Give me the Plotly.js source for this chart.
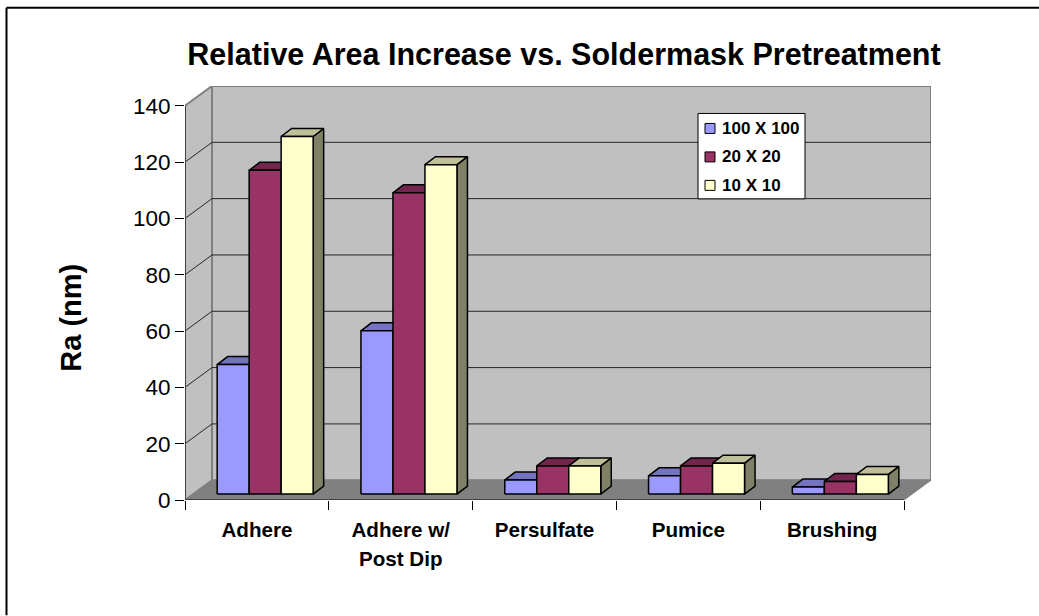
<!DOCTYPE html>
<html>
<head>
<meta charset="utf-8">
<script src="https://cdn.plot.ly/plotly-3.0.1.min.js"></script>
<style>html,body{margin:0;padding:0;background:#fff}#chart{width:1039px;height:616px}</style>
</head>
<body>
<div id="chart"></div>
<script>
const categories = ["Adhere", "Adhere w/<br>Post Dip", "Persulfate", "Pumice", "Brushing"];
const seriesNames = ["100 X 100", "20 X 20", "10 X 10"];
const values100 = [46, 58, 5, 6.5, 2.5];
const values20 = [115, 107, 10, 10, 4.5];
const values10 = [127, 117, 10, 11, 7];
const yTicks = [0, 20, 40, 60, 80, 100, 120, 140];

const W = 1039, H = 616;
const plotLeft = 185, plotFloorY = 500.5, plotTopY = 86, plotRight = 931;
const pxPerCat = 143.8, pxPerUnit = 2.82;
const depthX = 27 / pxPerCat, depthY = 19.8 / pxPerUnit;
const barW = 32 / pxPerCat;
const barDepthX = 10.5 / pxPerCat, barDepthY = 8 / pxPerUnit;
const barInsetX = (depthX - barDepthX) / 2, barInsetY = (depthY - barDepthY) / 2;

const fills = [
  {front: "#9999FF", top: "#7373BF", side: "#4D4D80"},
  {front: "#993366", top: "#73264D", side: "#4D1933"},
  {front: "#FFFFCC", top: "#BFBF99", side: "#808066"}
];

const xMax = categories.length + depthX;
const yMax = 140 + depthY;

// One filled trace holding a set of polygons separated by gaps
function polyTrace(polys, color, lineColor, lineWidth) {
  const x = [], y = [];
  polys.forEach(p => {
    p.forEach(pt => { x.push(pt[0]); y.push(pt[1]); });
    x.push(p[0][0]); y.push(p[0][1]);
    x.push(null); y.push(null);
  });
  return {
    type: "scatter", mode: "lines", x, y, fill: "toself", fillcolor: color,
    line: {color: lineColor, width: lineWidth, simplify: false},
    hoverinfo: "skip", showlegend: false, cliponaxis: false
  };
}

function lineTrace(pts, color, width) {
  return {
    type: "scatter", mode: "lines", x: pts.map(p => p[0]), y: pts.map(p => p[1]),
    line: {color, width, simplify: false}, hoverinfo: "skip", showlegend: false, cliponaxis: false
  };
}

const traces = [];

// Walls and floor of the 3-D box
const n = categories.length;
traces.push(polyTrace([[[depthX, depthY], [n + depthX, depthY], [n + depthX, 140 + depthY], [depthX, 140 + depthY]]], "#C0C0C0", "#808080", 2));
traces.push(polyTrace([[[0, 0], [depthX, depthY], [depthX, 140 + depthY], [0, 140]]], "#C0C0C0", "#808080", 2));
traces.push(polyTrace([[[0, 0], [n, 0], [n + depthX, depthY], [depthX, depthY]]], "#808080", "#808080", 1));

// Gridlines run along the side wall and across the back wall
yTicks.filter(v => v > 0 && v < 140).forEach(v => {
  traces.push(lineTrace([[0, v], [depthX, v + depthY], [n + depthX, v + depthY]], "#262626", 1));
});

traces.push(lineTrace([[0, 0], [0, 140]], "#404040", 2));
traces.push(lineTrace([[0, 0], [n, 0]], "#404040", 2));

// Clustered boxes, drawn left to right so that each one hides its neighbour's side
[values100, values20, values10].forEach((vals, s) => {
  const side = [], top = [], front = [];
  vals.forEach((v, i) => {
    const x0 = i + 0.5 - 1.5 * barW + s * barW + barInsetX;
    const x1 = x0 + barW;
    const y0 = barInsetY, y1 = barInsetY + v;
    front.push([[x0, y0], [x1, y0], [x1, y1], [x0, y1]]);
    top.push([[x0, y1], [x1, y1], [x1 + barDepthX, y1 + barDepthY], [x0 + barDepthX, y1 + barDepthY]]);
    side.push([[x1, y0], [x1 + barDepthX, y0 + barDepthY], [x1 + barDepthX, y1 + barDepthY], [x1, y1]]);
  });
  traces.push(polyTrace(side, fills[s].side, "#000", 1.5));
  traces.push(polyTrace(top, fills[s].top, "#000", 1.5));
  traces.push(polyTrace(front, fills[s].front, "#000", 1.5));
});

const font = "Liberation Sans, Arial, sans-serif";
// Pixel positions on the page, expressed in paper coordinates of the plot area
const px = x => (x - plotLeft) / (plotRight - plotLeft);
const py = y => (plotFloorY - y) / (plotFloorY - plotTopY);
const paperLine = (x0, y0, x1, y1, width) => ({type: "line", xref: "paper", yref: "paper", x0: px(x0), y0: py(y0), x1: px(x1), y1: py(y1), line: {color: "#000", width}, layer: "above"});

// Legend box drawn over the back wall
const legendBox = {l: 698, r: 805, t: 113.5, b: 199};
const legendRows = [128.5, 157, 185.5];
const shapes = [
  paperLine(6.5, 7.7, W, 7.7, 2),
  paperLine(6.5, 7.7, 6.5, H, 2),
  {type: "rect", xref: "paper", yref: "paper", x0: px(legendBox.l), x1: px(legendBox.r), y0: py(legendBox.t), y1: py(legendBox.b), line: {color: "#000", width: 1}, fillcolor: "#fff", layer: "above"}
];
const annotations = [];
seriesNames.forEach((name, s) => {
  const yc = legendRows[s];
  shapes.push({type: "rect", xref: "paper", yref: "paper", x0: px(705), x1: px(715), y0: py(yc - 5), y1: py(yc + 5), line: {color: "#000", width: 1}, fillcolor: fills[s].front, layer: "above"});
  annotations.push({xref: "paper", yref: "paper", x: px(720), y: py(yc), xanchor: "left", yanchor: "middle", showarrow: false, text: "<b>" + name + "</b>", font: {family: font, size: 17, color: "#000"}});
});

// Value-axis title sits lower than the axis centre, so it is placed by hand
annotations.push({xref: "paper", yref: "paper", x: px(71), y: py(318), xanchor: "center", yanchor: "middle", textangle: -90, showarrow: false, text: "<b>Ra (nm)</b>", font: {family: font, size: 29, color: "#000"}});

const catLabels = categories.map(c => "<span style='font-size:20.6px;font-weight:bold'>" + c.split("<br>").join("</span><br><span style='font-size:20.6px;font-weight:bold'>") + "</span>");

const layout = {
  width: W, height: H, autosize: false,
  paper_bgcolor: "#fff", plot_bgcolor: "rgba(0,0,0,0)",
  showlegend: false,
  margin: {l: plotLeft, r: W - plotRight, t: plotTopY, b: H - plotFloorY, pad: 0},
  title: {text: "<b>Relative Area Increase vs. Soldermask Pretreatment</b>", font: {family: font, size: 30.5, color: "#000"}, x: 564 / W, xanchor: "center", y: 1 - 54 / H, yanchor: "middle"},
  xaxis: {
    range: [0, xMax], showgrid: false, zeroline: false, showline: false,
    tickmode: "array", tickvals: categories.map((c, i) => i + 0.5), ticktext: catLabels,
    ticks: "outside", ticklen: 9, tickcolor: "rgba(0,0,0,0)", tickangle: 0,
    tickfont: {family: font, size: 22.3, color: "#000"},
    minor: {tickmode: "array", tickvals: [0, 1, 2, 3, 4, 5], ticks: "outside", ticklen: 9, tickwidth: 1, tickcolor: "#000", showgrid: false}
  },
  yaxis: {
    range: [0, yMax], showgrid: false, zeroline: false, showline: false,
    tickmode: "array", tickvals: yTicks, ticks: "outside", ticklen: 9, tickwidth: 1, tickcolor: "#000",
    tickfont: {family: font, size: 22.5, color: "#000"}
  },
  shapes, annotations
};

Plotly.newPlot("chart", traces, layout, {displayModeBar: false, staticPlot: true});
</script>
</body>
</html>
